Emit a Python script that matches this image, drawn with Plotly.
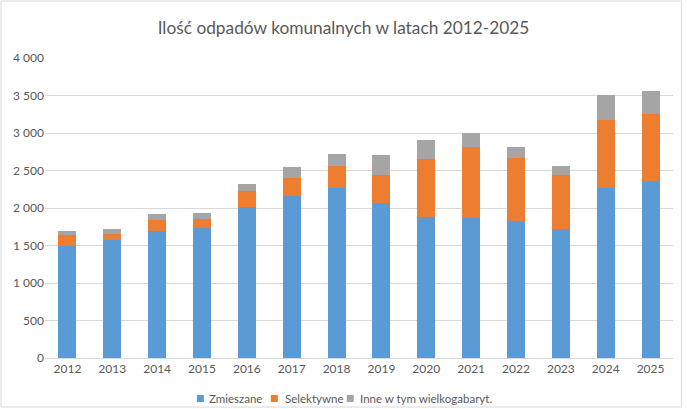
import plotly.graph_objects as go

years = ["2012", "2013", "2014", "2015", "2016", "2017", "2018", "2019",
         "2020", "2021", "2022", "2023", "2024", "2025"]
zmieszane = [1498, 1578, 1693, 1738, 2013, 2164, 2271, 2067, 1880, 1871, 1827, 1720, 2271, 2360]
selektywne = [142, 80, 151, 115, 214, 240, 289, 373, 773, 942, 844, 720, 907, 898]
inne = [53, 62, 76, 80, 93, 143, 160, 267, 254, 187, 142, 120, 329, 302]

series_names = ["Zmieszane", "Selektywne", "Inne w tym wielkogabaryt."]
colors = ["#5b9bd5", "#ed7d31", "#a5a5a5"]

y_tickvals = [0, 500, 1000, 1500, 2000, 2500, 3000, 3500, 4000]
y_ticktext = ["0", "500", "1 000", "1 500", "2 000", "2 500", "3 000", "3 500", "4 000"]

title_text = "Ilość odpadów komunalnych w latach 2012-2025"

# layout geometry (pixels)
W, H = 687, 409
ML, MR, MT, MB = 45, 13.5, 58, 51
PW, PH = W - ML - MR, H - MT - MB


def px_x(px):
    return (px - ML) / PW


def px_y(py):
    return (H - MB - py) / PH


fig = go.Figure()
for name, vals, col in zip(series_names, [zmieszane, selektywne, inne], colors):
    fig.add_trace(go.Bar(x=years, y=vals, name=name, showlegend=False,
                         marker=dict(color=col, line=dict(width=0))))

font_family = "Lato, Open Sans, sans-serif"

# legend drawn as small squares + text (Excel style)
legend_square_x = [197, 271, 347]
legend_text_x = [207, 283, 358]
shapes = [dict(type="rect", xref="paper", yref="paper",
               x0=px_x(1), x1=px_x(682), y0=px_y(407), y1=px_y(1),
               line=dict(color="#d9d9d9", width=1), layer="below")]
annotations = []
for name, col, sx, tx in zip(series_names, colors, legend_square_x, legend_text_x):
    shapes.append(dict(type="rect", xref="paper", yref="paper",
                       x0=px_x(sx), x1=px_x(sx + 7), y0=px_y(402), y1=px_y(395),
                       fillcolor=col, line=dict(width=0)))
    annotations.append(dict(text=name, xref="paper", yref="paper", x=px_x(tx), y=px_y(398),
                            xanchor="left", yanchor="middle", showarrow=False,
                            font=dict(size=11.5, color="#595959", family=font_family)))

fig.update_layout(
    barmode="stack",
    bargap=0.6,
    width=W, height=H,
    margin=dict(l=ML, r=MR, t=MT, b=MB, autoexpand=False),
    paper_bgcolor="white",
    plot_bgcolor="white",
    showlegend=False,
    font=dict(family=font_family, color="#595959", size=12),
    title=dict(text=title_text, x=0.5, xanchor="center", xref="container",
               y=1 - 28 / H, yanchor="middle",
               font=dict(size=17.3, color="#595959", family=font_family)),
    xaxis=dict(type="category", showgrid=False, showline=True, linecolor="#d9d9d9",
               linewidth=1, ticks="", tickfont=dict(size=12, color="#595959")),
    yaxis=dict(range=[0, 4000], tickvals=y_tickvals, ticktext=y_ticktext,
               showgrid=True, gridcolor="#d9d9d9", gridwidth=1, zeroline=False,
               showline=False, ticks="", tickfont=dict(size=12, color="#595959")),
    shapes=shapes,
    annotations=annotations,
)

fig.write_html("out.html")
